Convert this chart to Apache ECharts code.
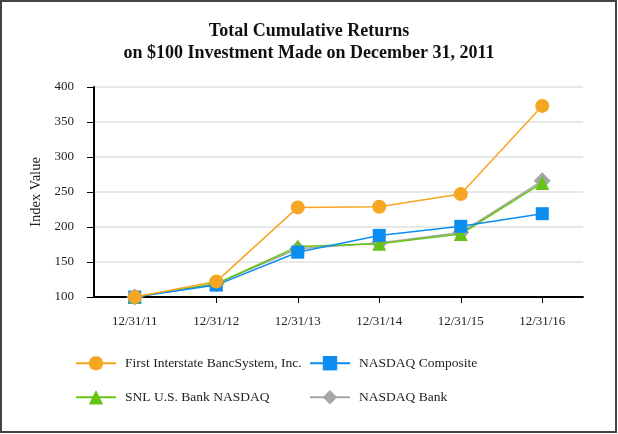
<!DOCTYPE html>
<html>
<head>
<meta charset="utf-8">
<script src="https://cdn.jsdelivr.net/npm/echarts@6/dist/echarts.min.js"></script>
<style>
html,body{margin:0;padding:0;background:#fff;}
#chart{width:618px;height:434px;}
</style>
</head>
<body>
<div id="chart"></div>
<script>
var categories = ['12/31/11','12/31/12','12/31/13','12/31/14','12/31/15','12/31/16'];
var firstInterstate = [100, 122, 228, 229, 247, 373];
var nasdaqComposite = [100, 117, 164, 188, 201, 219];
var snlBankNasdaq = [100, 119, 172, 176, 190, 263];
var nasdaqBank = [100, 119, 169, 177, 192, 266];
var yTicks = [100, 150, 200, 250, 300, 350, 400];

var FONT = '"Liberation Serif", "Times New Roman", serif';
var chart = echarts.init(document.getElementById('chart'), null, {renderer:'canvas'});

function legendAt(name, left, top) {
  return {
    data: [name], left: left, top: top, orient: 'horizontal',
    itemWidth: 40, itemHeight: 18, itemGap: 10, padding: 0,
    lineStyle: {width: 2},
    textStyle: {fontFamily: FONT, fontSize: 13.5, color: '#222', padding: [0,0,0,4]},
    selectedMode: false
  };
}

var option = {
  backgroundColor: '#fff',
  animation: false,
  title: {
    text: 'Total Cumulative Returns\non $100 Investment Made on December 31, 2011',
    left: 'center', top: 16,
    textStyle: {fontFamily: FONT, fontSize: 18, fontWeight: 'bold', color: '#111', lineHeight: 21.5}
  },
  graphic: [{
    type: 'rect', shape: {x: 1, y: 1, width: 615, height: 431},
    style: {fill: 'none', stroke: '#444', lineWidth: 2}, silent: true, z: 100
  }],
  legend: [
    legendAt('First Interstate BancSystem, Inc.', 75, 356),
    legendAt('NASDAQ Composite', 309, 356),
    legendAt('SNL U.S. Bank NASDAQ', 75, 390),
    legendAt('NASDAQ Bank', 309, 390)
  ],
  grid: {left: 94, right: 35, top: 87, bottom: 137},
  xAxis: {
    type: 'category', data: categories, boundaryGap: true,
    axisLine: {lineStyle: {color: '#000', width: 2}},
    axisTick: {show: true, alignWithLabel: true, length: 6, lineStyle: {color: '#000', width: 1}},
    axisLabel: {fontFamily: FONT, fontSize: 13, color: '#222', margin: 18}
  },
  yAxis: {
    type: 'value', min: 100, max: 400, interval: 50,
    name: 'Index Value', nameLocation: 'middle', nameGap: 40, nameRotate: 90,
    nameTextStyle: {fontFamily: FONT, fontSize: 14.5, color: '#222'},
    axisLine: {show: true, lineStyle: {color: '#000', width: 2}},
    axisTick: {show: true, length: 7, lineStyle: {color: '#000', width: 1}},
    axisLabel: {fontFamily: FONT, fontSize: 13, color: '#222', margin: 20,
      formatter: function (v) { return yTicks.indexOf(v) >= 0 ? String(v) : ''; }},
    splitLine: {show: true, lineStyle: {color: '#e8e8e8', width: 2}}
  },
  series: [
    {name: 'NASDAQ Bank', type: 'line', data: nasdaqBank, symbol: 'diamond', symbolSize: 17,
     itemStyle: {color: '#a6a6a6'}, lineStyle: {color: '#a6a6a6', width: 1.5}, z: 2},
    {name: 'SNL U.S. Bank NASDAQ', type: 'line', data: snlBankNasdaq, symbol: 'triangle', symbolSize: 14,
     itemStyle: {color: '#66c416'}, lineStyle: {color: '#66c416', width: 1.5}, z: 3},
    {name: 'NASDAQ Composite', type: 'line', data: nasdaqComposite, symbol: 'rect', symbolSize: 13,
     itemStyle: {color: '#0b8ef0'}, lineStyle: {color: '#0b8ef0', width: 1.5}, z: 4},
    {name: 'First Interstate BancSystem, Inc.', type: 'line', data: firstInterstate, symbol: 'circle', symbolSize: 14,
     itemStyle: {color: '#f5a623'}, lineStyle: {color: '#f5a623', width: 1.5}, z: 5}
  ]
};
chart.setOption(option);
</script>
</body>
</html>
